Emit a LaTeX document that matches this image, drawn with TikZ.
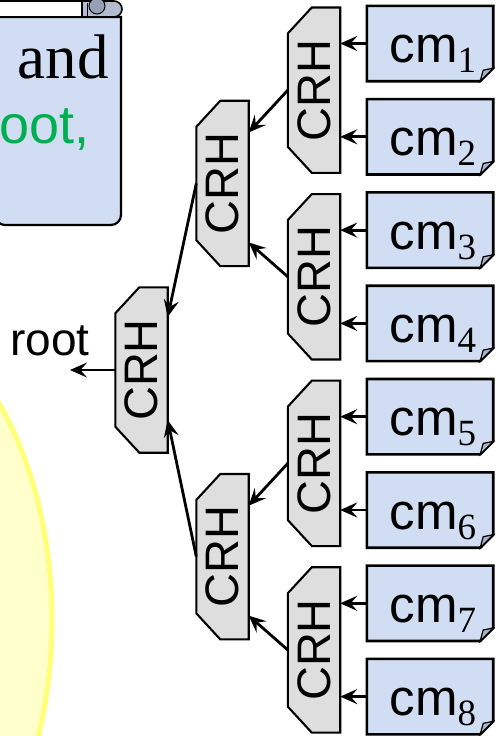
\documentclass[tikz,border=0pt]{standalone}
\usepackage{fontspec}
\usepackage{graphicx}
\setmainfont{Liberation Sans}
\newfontfamily\serifface{Liberation Serif}
\usetikzlibrary{arrows.meta,calc,backgrounds}

\definecolor{paleblue}{RGB}{208,221,242}
\definecolor{crhgray}{RGB}{222,222,222}
\definecolor{rollblue}{RGB}{178,188,206}
\definecolor{curldark}{RGB}{150,160,180}
\definecolor{flapgray}{RGB}{170,180,198}
\definecolor{slidegreen}{RGB}{0,176,80}
\definecolor{paleyellow}{RGB}{255,255,204}
\definecolor{yellowrim}{RGB}{255,255,120}

% label of a chunk: sans "cm" with a serif subscript index
\newcommand{\chunk}[1]{cm\raisebox{-10pt}{\fontsize{37}{37}\selectfont\serifface #1}}

\begin{document}
\begin{tikzpicture}[x=1pt,y=-1pt,
  crh/.style={minimum width=52pt,minimum height=165pt,inner sep=0pt,
    font=\fontsize{47}{47}\selectfont},
  cmbox/.style={minimum width=126pt,minimum height=75pt,inner sep=0pt},
  cmtext/.style={anchor=base,inner sep=0pt,font=\fontsize{51}{51}\selectfont},
  crhline/.style={fill=crhgray,draw=black,line width=2.1pt,line join=miter},
  boxline/.style={fill=paleblue,draw=black,line width=2.6pt},
  flap/.style={fill=flapgray,draw=black,line width=1.2pt},
  link/.style={line width=2.8pt,-{Stealth[length=17pt,width=15pt,inset=6.5pt]}}]

\useasboundingbox (0,0) rectangle (500,736);

% ---- slide background pieces on the left ----
\filldraw[fill=paleyellow,draw=yellowrim,line width=5pt]
  (-150,620) ellipse [x radius=202pt,y radius=321pt];

% scroll body
\filldraw[fill=paleblue,line width=2.2pt]
  (-5,17) -- (121,17) -- (121,200) [rounded corners=10pt] -- (121,225) -- (-5,225) [sharp corners] -- cycle;
% rolled top-right end of the scroll
\filldraw[fill=rollblue,line width=1.6pt]
  (82,17) -- (82,1) -- (112,1) [rounded corners=8pt] -- (122,1) -- (122,17) [sharp corners] -- cycle;
\draw[line width=1pt] (87,3) -- (87,17);
\filldraw[fill=curldark,line width=1pt] (97,6) circle (8pt);
% rolled top band
\filldraw[fill=white,line width=1.6pt] (-5,1) rectangle (82,17);

\node[anchor=base east,inner sep=0pt,font=\serifface\fontsize{63}{63}\selectfont] (andword) at (109,78) {and};
\node[anchor=base west,inner sep=0pt,text=slidegreen,font=\fontsize{54}{54}\selectfont] (rootword) at (-1,143) {oot,};

% ---- chunk boxes ----
\foreach \i in {1,...,8}{
  \pgfmathsetmacro{\yy}{6+93.3*(\i-1)+37.5}
  \node[cmbox] (c\i) at (430,\yy) {};
  \node[cmtext] (t\i) at (433,\yy+19) {\chunk{\i}};
}

% ---- CRH tree ----
\node[crh] (r1) at (314,90.15) {\rotatebox{90}{CRH}};
\node[crh] (r2) at (314,276.75) {\rotatebox{90}{CRH}};
\node[crh] (r3) at (314,463.35) {\rotatebox{90}{CRH}};
\node[crh] (r4) at (314,649.95) {\rotatebox{90}{CRH}};
\node[crh] (m1) at (222.5,183.45) {\rotatebox{90}{CRH}};
\node[crh] (m2) at (222.5,556.65) {\rotatebox{90}{CRH}};
\node[crh] (rt) at (141.5,370) {\rotatebox{90}{CRH}};

\node[anchor=base,inner sep=0pt,font=\fontsize{46}{46}\selectfont] (rootlabel) at (50,355) {root};
\coordinate (out) at (70,370);

\begin{scope}[on background layer]
  \foreach \n in {r1,r2,r3,r4,m1,m2,rt}{
    \filldraw[crhline] ($(\n.north west)+(0,26)$) -- ($(\n.north west)+(24,0)$)
      -- (\n.north east) -- (\n.south east) -- ($(\n.south west)+(24,0)$)
      -- ($(\n.south west)+(0,-26)$) -- cycle;
  }
  \foreach \n in {c1,c2,c3,c4,c5,c6,c7,c8}{
    \filldraw[boxline] (\n.north west) -- (\n.north east) -- ($(\n.south east)+(0,-13)$)
      -- ($(\n.south east)+(-13,0)$) -- (\n.south west) -- cycle;
    \filldraw[flap] ($(\n.south east)+(0,-13)$) -- ($(\n.south east)+(-13,0)$)
      -- ($(\n.south east)+(-10,-11)$) -- cycle;
  }
\end{scope}

% ---- connectors ----
\draw[link] (c1.west) -- (c1.west -| r1.east);
\draw[link] (c2.west) -- (c2.west -| r1.east);
\draw[link] (c3.west) -- (c3.west -| r2.east);
\draw[link] (c4.west) -- (c4.west -| r2.east);
\draw[link] (c5.west) -- (c5.west -| r3.east);
\draw[link] (c6.west) -- (c6.west -| r3.east);
\draw[link] (c7.west) -- (c7.west -| r4.east);
\draw[link] (c8.west) -- (c8.west -| r4.east);

\draw[link] (r1.west) -- ($(m1.east)+(0,-51)$);
\draw[link] (r2.west) -- ($(m1.east)+(0,59)$);
\draw[link] (r3.west) -- ($(m2.east)+(0,-51)$);
\draw[link] (r4.west) -- ($(m2.east)+(0,59)$);

\draw[link] (m1.west) -- ($(rt.east)+(0,-53)$);
\draw[link] (m2.west) -- ($(rt.east)+(0,50)$);

\draw[link] (rt.west) -- (out);
\end{tikzpicture}
\end{document}
